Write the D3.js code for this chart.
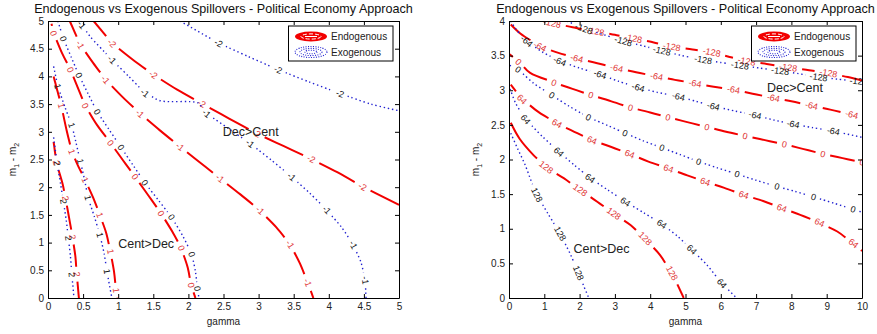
<!DOCTYPE html>
<html>
<head>
<meta charset="utf-8">
<style>
  body { margin: 0; background: #fff; }
  text { font-family: "Liberation Sans", Arial, sans-serif; }
</style>
</head>
<body>
<svg id="chart" width="877" height="334"></svg>
<script src="https://cdn.jsdelivr.net/npm/d3@7"></script>
<script>
    const titleText = "Endogenous vs Exogenous Spillovers - Political Economy Approach"
    const legendNames = ["Endogenous", "Exogenous"]

    const leftXTicks = [0, 0.5, 1, 1.5, 2, 2.5, 3, 3.5, 4, 4.5, 5]
    const leftYTicks = [0, 0.5, 1, 1.5, 2, 2.5, 3, 3.5, 4, 4.5, 5]
    const rightXTicks = [0, 1, 2, 3, 4, 5, 6, 7, 8, 9, 10]
    const rightYTicks = [0, 0.5, 1, 1.5, 2, 2.5, 3, 3.5, 4]

    // contour lines: [gamma, m1-m2, 1 = label sits here]
    const leftEndo = [
        { level: "2", pts: [[0.08, 2.82], [0.12, 2.44, 1], [0.21, 2.05], [0.25, 1.8, 1], [0.30, 1.45], [0.35, 1.1, 1], [0.39, 0.75], [0.41, 0.43, 1], [0.44, 0]] },
        { level: "1", pts: [[0.08, 4.0], [0.19, 3.47, 1], [0.27, 3.0], [0.34, 2.64, 1], [0.43, 2.38], [0.53, 2.13, 1], [0.64, 1.82], [0.74, 1.5, 1], [0.83, 1.17], [0.89, 0.84, 1], [0.94, 0.48], [0.97, 0.14, 1], [0.99, 0]] },
        { level: "0", pts: [[0.05, 4.95], [0.08, 4.78, 1], [0.20, 4.42], [0.32, 4.12, 1], [0.43, 3.78], [0.53, 3.47, 1], [0.70, 3.12], [0.89, 2.80, 1], [1.06, 2.5], [1.24, 2.19, 1], [1.43, 1.85], [1.61, 1.53, 1], [1.77, 1.2], [1.90, 0.90, 1], [1.99, 0.55], [2.04, 0.23, 1], [2.10, 0]] },
        { level: "-1", pts: [[0.31, 5], [0.46, 4.57, 1], [0.64, 4.25], [0.82, 3.94, 1], [1.06, 3.63], [1.31, 3.33, 1], [1.59, 3.03], [1.88, 2.73, 1], [2.16, 2.45], [2.45, 2.16, 1], [2.74, 1.87], [3.02, 1.58, 1], [3.25, 1.28], [3.45, 0.97, 1], [3.59, 0.62], [3.70, 0.28, 1], [3.78, 0]] },
        { level: "-2", pts: [[0.65, 5], [0.91, 4.6, 1], [1.20, 4.31], [1.50, 4.03, 1], [1.84, 3.76], [2.19, 3.51, 1], [2.58, 3.24], [2.97, 2.97, 1], [3.36, 2.74], [3.75, 2.51, 1], [4.12, 2.27], [4.48, 2.01, 1], [5.0, 1.68]] }
    ]
    const leftExo = [
        { level: "2", pts: [[0.08, 2.9], [0.13, 2.43, 1], [0.18, 2.05], [0.22, 1.74, 1], [0.26, 1.4], [0.29, 1.08, 1], [0.32, 0.75], [0.34, 0.42, 1], [0.37, 0]] },
        { level: "1", pts: [[0.08, 4.18], [0.14, 3.82, 1], [0.24, 3.45], [0.34, 3.12, 1], [0.40, 2.8], [0.46, 2.47, 1], [0.52, 2.14], [0.57, 1.81, 1], [0.66, 1.47], [0.74, 1.14, 1], [0.80, 0.8], [0.84, 0.48, 1], [0.88, 0.2], [0.91, 0]] },
        { level: "0", pts: [[0.14, 5.0], [0.22, 4.68, 1], [0.33, 4.35], [0.44, 4.02, 1], [0.57, 3.69], [0.70, 3.36, 1], [0.87, 3.04], [1.04, 2.72, 1], [1.21, 2.4], [1.38, 2.08, 1], [1.57, 1.77], [1.76, 1.46, 1], [1.92, 1.12], [2.05, 0.79, 1], [2.10, 0.48], [2.13, 0.17, 1], [2.15, 0]] },
        { level: "-1", pts: [[0.42, 5.0], [0.48, 4.93, 1], [0.60, 4.72], [0.91, 4.30, 1], [1.15, 4.0], [1.38, 3.70, 1], [1.60, 3.56], [2.14, 3.52], [2.26, 3.33, 1], [2.57, 3.06], [2.88, 2.79, 1], [3.18, 2.49], [3.47, 2.19, 1], [3.73, 1.89], [3.97, 1.59, 1], [4.18, 1.28], [4.35, 0.96, 1], [4.46, 0.64], [4.52, 0.32, 1], [4.53, 0]] },
        { level: "-2", pts: [[1.88, 5], [2.43, 4.60, 1], [2.85, 4.36], [3.28, 4.12, 1], [3.72, 3.90], [4.16, 3.69, 1], [4.6, 3.5], [5.0, 3.38]] }
    ]

    const rightEndo = [
        { level: "-128", pts: [[1.0, 4.0], [1.22, 3.97, 1], [1.8, 3.91], [2.45, 3.85, 1], [3.0, 3.80], [3.52, 3.75, 1], [4.1, 3.69], [4.61, 3.63, 1], [5.2, 3.59], [5.74, 3.55, 1], [6.25, 3.48], [6.73, 3.42, 1], [7.3, 3.38], [7.91, 3.33, 1], [8.5, 3.29], [9.05, 3.25, 1], [9.6, 3.19], [10, 3.14]] },
        { level: "-64", pts: [[0.05, 3.95], [0.32, 3.82], [0.88, 3.63, 1], [1.4, 3.54], [1.92, 3.46, 1], [2.5, 3.39], [3.05, 3.32, 1], [3.6, 3.26], [4.18, 3.20, 1], [4.7, 3.15], [5.27, 3.10, 1], [5.8, 3.05], [6.36, 3.01, 1], [6.9, 2.95], [7.49, 2.89, 1], [8.0, 2.84], [8.57, 2.78, 1], [9.1, 2.72], [9.71, 2.65, 1], [10, 2.61]] },
        { level: "0", pts: [[0.02, 3.52], [0.27, 3.41, 1], [0.6, 3.25], [1.27, 3.11, 1], [1.8, 3.02], [2.32, 2.93, 1], [2.9, 2.84], [3.44, 2.75, 1], [4.0, 2.68], [4.50, 2.61, 1], [5.05, 2.54], [5.61, 2.47, 1], [6.15, 2.40], [6.69, 2.34, 1], [7.25, 2.28], [7.80, 2.22, 1], [8.35, 2.15], [8.89, 2.08, 1], [9.45, 2.02], [10, 1.96, 1]] },
        { level: "64", pts: [[0.05, 3.08], [0.37, 2.87, 1], [0.85, 2.68], [1.36, 2.52, 1], [1.85, 2.40], [2.35, 2.28, 1], [2.9, 2.18], [3.42, 2.08, 1], [3.95, 1.97], [4.52, 1.87, 1], [5.05, 1.77], [5.56, 1.68, 1], [6.1, 1.59], [6.65, 1.49, 1], [7.2, 1.40], [7.73, 1.30, 1], [8.25, 1.20], [8.80, 1.09, 1], [9.3, 0.96], [9.76, 0.79, 1], [10, 0.68]] },
        { level: "128", pts: [[0.05, 2.53], [0.30, 2.30], [0.70, 2.06], [1.05, 1.89, 1], [1.55, 1.73], [2.02, 1.56, 1], [2.5, 1.39], [2.97, 1.22, 1], [3.45, 1.05], [3.86, 0.86, 1], [4.28, 0.62], [4.62, 0.36, 1], [4.95, 0]] }
    ]
    const rightExo = [
        { level: "-128", pts: [[1.64, 4.0], [2.12, 3.89, 1], [2.7, 3.8], [3.24, 3.71, 1], [3.8, 3.64], [4.33, 3.57, 1], [4.9, 3.5], [5.50, 3.44, 1], [6.0, 3.40], [6.54, 3.36, 1], [7.1, 3.32], [7.68, 3.28, 1], [8.2, 3.24], [8.77, 3.19, 1], [9.3, 3.16], [9.9, 3.13, 1], [10, 3.12]] },
        { level: "-64", pts: [[0.05, 4.0], [0.2, 3.88], [0.50, 3.71, 1], [0.95, 3.55], [1.44, 3.42, 1], [2.0, 3.32], [2.58, 3.23, 1], [3.1, 3.13], [3.66, 3.04, 1], [4.2, 2.97], [4.80, 2.91, 1], [5.3, 2.84], [5.79, 2.77, 1], [6.4, 2.70], [6.97, 2.64, 1], [7.5, 2.57], [8.05, 2.51, 1], [8.6, 2.46], [9.19, 2.41, 1], [10, 2.32]] },
        { level: "0", pts: [[0.02, 3.36], [0.26, 3.30, 1], [0.7, 3.1], [1.21, 2.93, 1], [1.7, 2.77], [2.25, 2.61, 1], [2.8, 2.49], [3.29, 2.38, 1], [3.8, 2.27], [4.33, 2.17, 1], [4.85, 2.07], [5.37, 1.97, 1], [5.9, 1.88], [6.46, 1.79, 1], [7.0, 1.70], [7.59, 1.61, 1], [8.1, 1.54], [8.63, 1.46, 1], [9.2, 1.37], [9.75, 1.28, 1], [10, 1.24]] },
        { level: "64", pts: [[0.03, 3.02], [0.2, 2.8], [0.47, 2.58, 1], [0.95, 2.33], [1.41, 2.11, 1], [1.85, 1.92], [2.30, 1.73, 1], [2.8, 1.56], [3.30, 1.39, 1], [3.82, 1.23], [4.33, 1.07, 1], [4.78, 0.89], [5.18, 0.70, 1], [5.62, 0.47], [6.03, 0.21, 1], [6.45, 0]] },
        { level: "128", pts: [[0.05, 2.38], [0.25, 2.15], [0.45, 1.93], [0.62, 1.70], [0.79, 1.49, 1], [1.10, 1.22], [1.45, 0.93, 1], [1.75, 0.62], [1.97, 0.36, 1], [2.12, 0.17], [2.26, 0]] }
    ]

    const leftNotes = [["Dec>Cent", 2.49, 3.0], ["Cent>Dec", 1.0, 0.99]]
    const rightNotes = [["Dec>Cent", 7.31, 3.04], ["Cent>Dec", 1.83, 0.72]]

    let svg = d3.select("#chart")
    let plotTop = 21
    let plotBottom = 298

    let panels = [
        { xTicks: leftXTicks, yTicks: leftYTicks, endo: leftEndo, exo: leftExo, notes: leftNotes, x0: 48, x1: 399, ylab: 16 },
        { xTicks: rightXTicks, yTicks: rightYTicks, endo: rightEndo, exo: rightExo, notes: rightNotes, x0: 509, x1: 862, ylab: 479 }
    ]

    function drawContour(g, x, y, line, style) {
        let P = line.pts.map(p => [x(p[0]), y(p[1]), p[2] === 1])
        let cum = [0]
        for (let i = 1; i < P.length; i++)
            cum.push(cum[i - 1] + Math.hypot(P[i][0] - P[i - 1][0], P[i][1] - P[i - 1][1]))
        let total = cum[cum.length - 1]

        let cuts = []
        P.forEach((p, i) => {
            if (!p[2]) return
            let a = P[Math.max(0, i - 1)], b = P[Math.min(P.length - 1, i + 1)]
            let ang = Math.atan2(b[1] - a[1], b[0] - a[0]) * 180 / Math.PI
            if (ang > 90) ang -= 180
            if (ang < -90) ang += 180
            let t = g.append("text")
                .attr("transform", `translate(${p[0]},${p[1]}) rotate(${ang})`)
                .attr("text-anchor", "middle")
                .attr("dy", "0.35em")
                .attr("font-size", 9)
                .attr("fill", style.label)
                .text(line.level)
            let w = t.node().getComputedTextLength()
            let r = w / 2 + style.pad
            cuts.push([cum[i] - r, cum[i] + r])
        })

        let keep = [], s = 0
        cuts.forEach(c => {
            if (c[0] > s) keep.push([s, c[0]])
            s = Math.max(s, c[1])
        })
        if (s < total) keep.push([s, total])

        function at(d) {
            let i = 0
            while (i < cum.length - 2 && cum[i + 1] < d) i++
            let seg = cum[i + 1] - cum[i] || 1
            let f = Math.max(0, Math.min(1, (d - cum[i]) / seg))
            return [P[i][0] + f * (P[i + 1][0] - P[i][0]), P[i][1] + f * (P[i + 1][1] - P[i][1])]
        }

        let lineGen = d3.line().curve(d3.curveCatmullRom)
        keep.forEach(([a, b]) => {
            let pts = [at(a)]
            P.forEach((p, i) => { if (cum[i] > a && cum[i] < b) pts.push([p[0], p[1]]) })
            pts.push(at(b))
            g.insert("path", "text")
                .attr("d", lineGen(pts))
                .attr("fill", "none")
                .attr("stroke", style.color)
                .attr("stroke-width", style.width)
                .attr("stroke-dasharray", style.dash)
        })
    }

    let endoStyle = { color: "#f20000", label: "#e03434", width: 2, dash: null, pad: 5 }
    let exoStyle = { color: "#2020d0", label: "#111", width: 1.4, dash: "1.4,2.8", pad: 4 }

    panels.forEach((pn, k) => {
        let x = d3.scaleLinear().domain([pn.xTicks[0], pn.xTicks[pn.xTicks.length - 1]]).range([pn.x0, pn.x1])
        let y = d3.scaleLinear().domain([pn.yTicks[0], pn.yTicks[pn.yTicks.length - 1]]).range([plotBottom, plotTop])

        svg.append("clipPath").attr("id", "clip" + k)
            .append("rect").attr("x", pn.x0).attr("y", plotTop)
            .attr("width", pn.x1 - pn.x0).attr("height", plotBottom - plotTop)

        let body = svg.append("g").attr("clip-path", `url(#clip${k})`)
        pn.endo.forEach(l => drawContour(body.append("g"), x, y, l, endoStyle))
        pn.exo.forEach(l => drawContour(body.append("g"), x, y, l, exoStyle))

        body.selectAll("text.note").data(pn.notes)
            .enter().append("text")
            .attr("class", "note")
            .attr("x", d => x(d[1]))
            .attr("y", d => y(d[2]))
            .attr("dy", "0.35em")
            .attr("font-size", 12.5)
            .attr("fill", "#222")
            .text(d => d[0])

        // axes, ticks inside on all four sides
        let axes = [
            d3.axisBottom(x).tickValues(pn.xTicks).tickFormat(d => d),
            d3.axisTop(x).tickValues(pn.xTicks).tickFormat(""),
            d3.axisLeft(y).tickValues(pn.yTicks).tickFormat(d => d),
            d3.axisRight(y).tickValues(pn.yTicks).tickFormat("")
        ]
        let shifts = [`0,${plotBottom}`, `0,${plotTop}`, `${pn.x0},0`, `${pn.x1},0`]
        axes.forEach((ax, i) => {
            let ag = svg.append("g")
                .attr("transform", `translate(${shifts[i]})`)
                .call(ax.tickSizeInner(-4).tickSizeOuter(0).tickPadding(i === 0 ? 5 : 4))
            ag.selectAll("text").attr("font-family", "Liberation Sans, Arial, sans-serif")
                .attr("font-size", 10).attr("fill", "#222")
            ag.select(".domain").attr("stroke", "#000")
        })

        let cx = (pn.x0 + pn.x1) / 2
        svg.append("text").attr("x", cx).attr("y", 12.5)
            .attr("text-anchor", "middle").attr("font-size", 12.6).attr("fill", "#111")
            .text(titleText)

        svg.append("text").attr("x", cx).attr("y", 325)
            .attr("text-anchor", "middle").attr("font-size", 10).attr("fill", "#222")
            .text("gamma")

        let yl = svg.append("text")
            .attr("transform", `translate(${pn.ylab},${(plotTop + plotBottom) / 2}) rotate(-90)`)
            .attr("text-anchor", "middle").attr("font-size", 10).attr("fill", "#222")
        yl.append("tspan").text("m")
        yl.append("tspan").attr("dy", 3).attr("font-size", 7).text("1")
        yl.append("tspan").attr("dy", -3).text(" - m")
        yl.append("tspan").attr("dy", 3).attr("font-size", 7).text("2")

        // legend
        let lx = pn.x1 - 6 - 104.5, ly = 26
        let lg = svg.append("g")
        lg.append("rect").attr("x", lx).attr("y", ly).attr("width", 104.5).attr("height", 35)
            .attr("fill", "#fff").attr("stroke", "#000").attr("stroke-width", 1)
        let ix = lx + 22.5
        let r1 = ly + 10.5, r2 = ly + 26
        lg.append("ellipse").attr("cx", ix).attr("cy", r1).attr("rx", 16).attr("ry", 5)
            .attr("fill", "#f20000")
        lg.append("ellipse").attr("cx", ix).attr("cy", r1).attr("rx", 10).attr("ry", 2.6)
            .attr("fill", "none").attr("stroke", "#fff").attr("stroke-width", 1).attr("stroke-dasharray", "4,2")
        lg.append("line").attr("x1", ix - 6).attr("x2", ix + 6).attr("y1", r1).attr("y2", r1)
            .attr("stroke", "#fff").attr("stroke-width", 1)
        ;[[16, 5.5], [11, 3.6], [6, 1.8]].forEach(([rx, ry]) => {
            lg.append("ellipse").attr("cx", ix).attr("cy", r2).attr("rx", rx).attr("ry", ry)
                .attr("fill", "none").attr("stroke", exoStyle.color).attr("stroke-width", 1.1)
                .attr("stroke-dasharray", "1,1.4")
        })
        lg.selectAll("text.leg").data(legendNames)
            .enter().append("text")
            .attr("class", "leg")
            .attr("x", lx + 42.5)
            .attr("y", (d, i) => (i === 0 ? r1 : r2) + 3.6)
            .attr("font-size", 10).attr("fill", "#222")
            .text(d => d)
    })
</script>
</body>
</html>
